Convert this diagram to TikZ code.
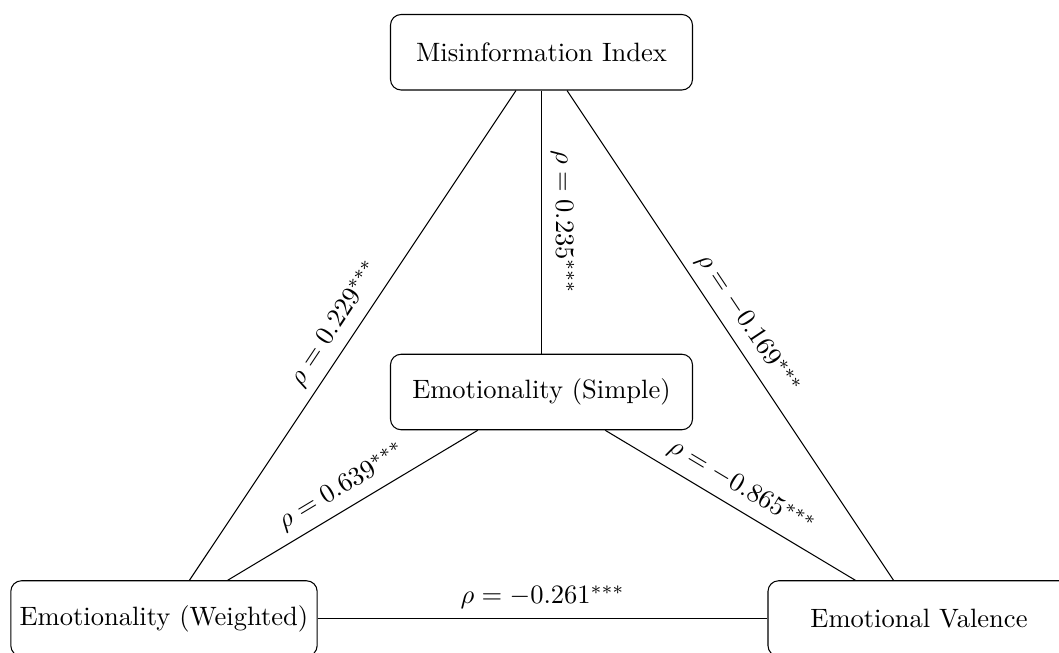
\documentclass[tikz,border=0pt]{standalone}
\begin{document}
\begin{tikzpicture}
\tikzset{
  varbox/.style={draw, rounded corners, minimum width=4cm, minimum height=1cm, align=center},
  corr/.style={midway, sloped, above}
}
\useasboundingbox (-7.172,-3.444) rectangle (6.854,5.192);
\node[varbox] (mis) at (0,4.5) {Misinformation Index};
\node[varbox] (simple) at (0,0) {Emotionality (Simple)};
\node[varbox] (weighted) at (-5,-3) {Emotionality (Weighted)};
\node[varbox] (valence) at (5,-3) {Emotional Valence};
\draw (mis) -- node[corr] {$\rho = 0.235^{***}$} (simple);
\draw (weighted) -- node[corr] {$\rho = 0.229^{***}$} (mis);
\draw (mis) -- node[corr] {$\rho = -0.169^{***}$} (valence);
\draw (simple) -- node[corr] {$\rho = 0.639^{***}$} (weighted);
\draw (simple) -- node[corr] {$\rho = -0.865^{***}$} (valence);
\draw (weighted) -- node[corr] {$\rho = -0.261^{***}$} (valence);
\end{tikzpicture}
\end{document}
